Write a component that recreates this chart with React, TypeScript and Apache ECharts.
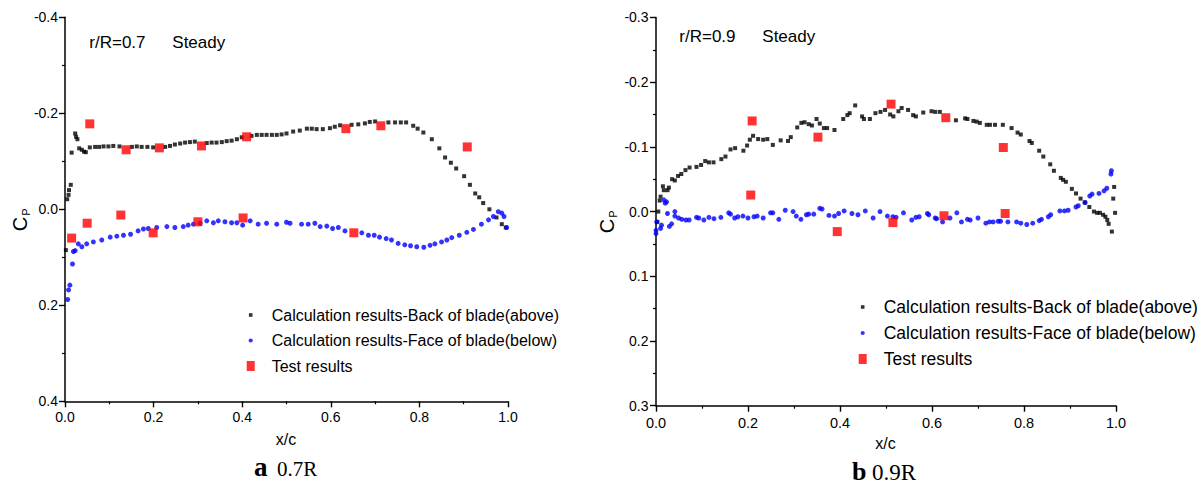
import React, { useEffect, useRef } from "react";
import * as echarts from "echarts";

const BACK = "Calculation results-Back of blade(above)";
const FACE = "Calculation results-Face of blade(below)";
const TEST = "Test results";

// x/c, Cp
const leftBack: number[][] = [
  [0.002, 0.085], [0.005, -0.021], [0.008, -0.03], [0.009, -0.04], [0.013, -0.051], [0.015, -0.118],
  [0.023, -0.158], [0.025, -0.151], [0.028, -0.146], [0.032, -0.127], [0.038, -0.124], [0.043, -0.12],
  [0.047, -0.119], [0.056, -0.129], [0.068, -0.13], [0.077, -0.13], [0.087, -0.131], [0.098, -0.131],
  [0.109, -0.132], [0.123, -0.131], [0.151, -0.13], [0.162, -0.131], [0.173, -0.13], [0.186, -0.13],
  [0.199, -0.129], [0.226, -0.13], [0.237, -0.132], [0.248, -0.135], [0.26, -0.137], [0.271, -0.139],
  [0.282, -0.14], [0.293, -0.141], [0.32, -0.138], [0.331, -0.139], [0.342, -0.139], [0.354, -0.14],
  [0.365, -0.142], [0.376, -0.143], [0.388, -0.146], [0.399, -0.15], [0.421, -0.153], [0.433, -0.155],
  [0.444, -0.155], [0.455, -0.155], [0.467, -0.155], [0.478, -0.155], [0.489, -0.156], [0.5, -0.158],
  [0.515, -0.162], [0.53, -0.164], [0.546, -0.168], [0.557, -0.168], [0.568, -0.167], [0.582, -0.167],
  [0.598, -0.169], [0.609, -0.172], [0.621, -0.175], [0.647, -0.176], [0.662, -0.177], [0.677, -0.179],
  [0.688, -0.182], [0.7, -0.183], [0.73, -0.181], [0.745, -0.181], [0.758, -0.181], [0.77, -0.181],
  [0.786, -0.174], [0.796, -0.168], [0.809, -0.16], [0.828, -0.146], [0.845, -0.127], [0.858, -0.108],
  [0.871, -0.097], [0.883, -0.085], [0.901, -0.069], [0.914, -0.051], [0.926, -0.033], [0.935, -0.025],
  [0.944, -0.013], [0.958, 0.0], [0.974, 0.017], [0.986, 0.031], [0.995, 0.038],
];

const leftFace: number[][] = [
  [0.006, 0.188], [0.008, 0.168], [0.011, 0.158], [0.017, 0.114], [0.019, 0.088], [0.023, 0.086],
  [0.03, 0.072], [0.038, 0.078], [0.049, 0.072], [0.064, 0.068], [0.083, 0.064], [0.102, 0.058],
  [0.117, 0.056], [0.132, 0.054], [0.148, 0.052], [0.165, 0.045], [0.177, 0.041], [0.188, 0.04],
  [0.207, 0.038], [0.23, 0.036], [0.248, 0.038], [0.267, 0.036], [0.278, 0.033], [0.29, 0.031],
  [0.305, 0.029], [0.32, 0.024], [0.335, 0.028], [0.346, 0.024], [0.361, 0.026], [0.376, 0.028],
  [0.388, 0.028], [0.401, 0.033], [0.418, 0.024], [0.436, 0.031], [0.455, 0.029], [0.478, 0.031],
  [0.5, 0.027], [0.508, 0.029], [0.534, 0.031], [0.549, 0.031], [0.564, 0.029], [0.576, 0.036],
  [0.591, 0.035], [0.604, 0.04], [0.617, 0.038], [0.632, 0.045], [0.67, 0.049], [0.685, 0.054],
  [0.698, 0.054], [0.71, 0.058], [0.725, 0.061], [0.737, 0.064], [0.752, 0.071], [0.767, 0.074],
  [0.78, 0.076], [0.794, 0.078], [0.81, 0.079], [0.824, 0.075], [0.835, 0.072], [0.85, 0.068],
  [0.862, 0.064], [0.873, 0.059], [0.89, 0.054], [0.907, 0.048], [0.922, 0.042], [0.94, 0.031],
  [0.956, 0.022], [0.967, 0.015], [0.978, 0.005], [0.986, 0.008], [0.991, 0.015], [0.997, 0.038],
];

const leftTest: number[][] = [
  [0.015, 0.06], [0.05, 0.029], [0.056, -0.178], [0.126, 0.012], [0.138, -0.124], [0.199, 0.049],
  [0.213, -0.128], [0.3, 0.026], [0.308, -0.132], [0.402, 0.018], [0.41, -0.151], [0.634, -0.168],
  [0.652, 0.049], [0.713, -0.174], [0.908, -0.13],
];

const rightBack: number[][] = [
  [0.003, 0.016], [0.005, 0.0], [0.008, -0.017], [0.01, -0.023], [0.015, -0.039], [0.017, -0.033],
  [0.025, -0.033], [0.028, -0.037], [0.035, -0.05], [0.041, -0.048], [0.048, -0.055], [0.055, -0.058],
  [0.064, -0.064], [0.073, -0.068], [0.088, -0.069], [0.098, -0.072], [0.107, -0.078], [0.115, -0.076],
  [0.125, -0.076], [0.142, -0.081], [0.151, -0.085], [0.162, -0.096], [0.172, -0.098], [0.19, -0.094],
  [0.198, -0.102], [0.204, -0.111], [0.211, -0.117], [0.222, -0.112], [0.233, -0.111], [0.242, -0.112],
  [0.254, -0.103], [0.271, -0.11], [0.287, -0.109], [0.293, -0.115], [0.307, -0.13], [0.316, -0.137],
  [0.323, -0.138], [0.332, -0.135], [0.339, -0.133], [0.349, -0.143], [0.356, -0.136], [0.365, -0.129],
  [0.372, -0.129], [0.388, -0.126], [0.407, -0.143], [0.416, -0.149], [0.421, -0.152], [0.433, -0.164],
  [0.448, -0.147], [0.452, -0.143], [0.465, -0.143], [0.477, -0.152], [0.488, -0.154], [0.498, -0.157],
  [0.509, -0.15], [0.516, -0.147], [0.527, -0.155], [0.534, -0.16], [0.548, -0.157], [0.559, -0.149],
  [0.565, -0.147], [0.581, -0.153], [0.599, -0.155], [0.607, -0.154], [0.617, -0.154], [0.652, -0.141],
  [0.672, -0.144], [0.677, -0.143], [0.69, -0.14], [0.697, -0.139], [0.704, -0.137], [0.719, -0.134],
  [0.726, -0.134], [0.737, -0.134], [0.754, -0.134], [0.773, -0.129], [0.786, -0.122], [0.793, -0.119],
  [0.812, -0.109], [0.817, -0.106], [0.833, -0.094], [0.842, -0.085], [0.857, -0.073], [0.865, -0.063],
  [0.88, -0.052], [0.885, -0.049], [0.891, -0.046], [0.904, -0.035], [0.913, -0.028], [0.923, -0.02],
  [0.932, -0.014], [0.942, -0.007], [0.952, 0.0], [0.959, 0.002], [0.965, 0.002], [0.972, 0.005],
  [0.977, 0.008], [0.981, 0.013], [0.984, 0.019], [0.991, 0.031], [0.994, -0.02], [0.996, -0.038],
  [0.998, 0.002],
];

const rightFace: number[][] = [
  [0.0, 0.034], [0.0, 0.029], [0.0015, 0.016], [0.01, 0.026], [0.012, 0.021], [0.017, -0.018],
  [0.02, -0.013], [0.023, -0.015], [0.025, 0.003], [0.029, 0.023], [0.034, 0.019], [0.041, 0.0],
  [0.041, 0.007], [0.049, 0.01], [0.056, 0.012], [0.065, 0.013], [0.072, 0.013], [0.088, 0.009],
  [0.093, 0.01], [0.104, 0.013], [0.115, 0.009], [0.126, 0.011], [0.141, 0.009], [0.158, 0.002],
  [0.162, 0.004], [0.171, 0.01], [0.178, 0.008], [0.189, 0.007], [0.2, 0.01], [0.213, 0.008],
  [0.22, 0.007], [0.233, 0.01], [0.249, 0.002], [0.254, 0.002], [0.267, 0.012], [0.281, -0.002],
  [0.298, 0.0], [0.305, 0.007], [0.315, 0.012], [0.327, 0.005], [0.332, 0.004], [0.343, 0.004],
  [0.356, -0.005], [0.361, -0.004], [0.376, 0.006], [0.388, 0.007], [0.397, 0.003], [0.409, -0.001],
  [0.426, 0.003], [0.439, 0.005], [0.455, -0.001], [0.472, 0.01], [0.487, 0.0], [0.503, 0.007],
  [0.515, 0.008], [0.522, 0.009], [0.538, 0.002], [0.556, 0.013], [0.565, 0.009], [0.572, 0.008],
  [0.59, 0.003], [0.593, 0.005], [0.607, 0.01], [0.61, 0.011], [0.623, 0.016], [0.639, 0.01],
  [0.654, 0.002], [0.664, 0.016], [0.677, 0.012], [0.683, 0.013], [0.7, 0.01], [0.717, 0.018],
  [0.725, 0.016], [0.733, 0.016], [0.744, 0.015], [0.749, 0.015], [0.765, 0.016], [0.784, 0.016],
  [0.793, 0.018], [0.806, 0.02], [0.819, 0.018], [0.833, 0.014], [0.838, 0.012], [0.853, 0.008],
  [0.858, 0.005], [0.878, -0.001], [0.888, -0.001], [0.896, -0.002], [0.913, -0.007], [0.918, -0.009],
  [0.933, -0.014], [0.943, -0.024], [0.948, -0.027], [0.963, -0.028], [0.974, -0.032], [0.98, -0.036],
  [0.989, -0.058], [0.99, -0.063],
];

const rightTest: number[][] = [
  [0.206, -0.0255], [0.209, -0.14], [0.352, -0.115], [0.394, 0.031], [0.511, -0.166], [0.515, 0.017],
  [0.626, 0.0065], [0.63, -0.145], [0.755, -0.099], [0.759, 0.003],
];

const SANS = "Liberation Sans, Arial, sans-serif";
const SERIF = "Liberation Serif, Times New Roman, serif";

const fmt = (v: number) => (Math.abs(v) < 1e-9 ? "0.0" : v.toFixed(1));

function axisCommon(labelSize: number, margin: number) {
  return {
    type: "value" as const,
    axisLine: { show: true, onZero: false, lineStyle: { color: "#000", width: 1.5 } },
    axisTick: { show: true, inside: false, length: 6, lineStyle: { color: "#000", width: 1.4 } },
    minorTick: { show: true, splitNumber: 2, length: 3, lineStyle: { color: "#000", width: 1.2 } },
    splitLine: { show: false },
    minorSplitLine: { show: false },
    axisLabel: { color: "#000", fontSize: labelSize, fontFamily: SANS, margin, formatter: fmt },
  };
}

const ICON_SQ = "path://M0,0M8,10M2.2,3.2L5.8,3.2L5.8,6.8L2.2,6.8Z";
const ICON_DOT = "path://M0,0M8,10M1.9,5A2.1,2.1,0,1,1,6.1,5A2.1,2.1,0,1,1,1.9,5Z";

function legendFor(left: number, top: number, size: number, gap: number) {
  return {
    orient: "vertical" as const,
    left,
    top,
    itemWidth: 8,
    itemHeight: 10,
    itemGap: gap,
    selectedMode: false,
    textStyle: { fontSize: size, lineHeight: size, fontFamily: SANS, color: "#000", padding: [0, 0, 0, 12] },
    data: [
      { name: BACK, icon: ICON_SQ },
      { name: FACE, icon: ICON_DOT },
      { name: TEST, icon: "rect" },
    ],
  };
}

function seriesFor(idx: number, back: number[][], face: number[][], test: number[][]) {
  return [
    {
      type: "scatter", name: BACK, xAxisIndex: idx, yAxisIndex: idx, data: back,
      symbol: "rect", symbolSize: 4, itemStyle: { color: "#000" }, z: 2,
    },
    {
      type: "scatter", name: FACE, xAxisIndex: idx, yAxisIndex: idx, data: face,
      symbol: "circle", symbolSize: 5, itemStyle: { color: "#0000ff" }, z: 2,
    },
    {
      type: "scatter", name: TEST, xAxisIndex: idx, yAxisIndex: idx, data: test,
      symbol: "rect", symbolSize: 9, itemStyle: { color: "#ff0000" }, z: 3,
    },
  ];
}

function txt(x: number, y: number, text: string, size: number, extra: any = {}) {
  return {
    type: "text",
    x,
    y,
    ...extra.el,
    style: {
      text,
      fontSize: size,
      fontFamily: SANS,
      fill: "#000",
      align: "left",
      verticalAlign: "middle",
      ...extra.style,
    },
  };
}

export default function App() {
  const ref = useRef<HTMLDivElement>(null);
  useEffect(() => {
    if (!ref.current) return;
    const chart = echarts.init(ref.current, undefined, { renderer: "svg" });
    const rot = { rotation: Math.PI / 2 };
    const serifBold = { style: { fontFamily: SERIF, fontWeight: "bold" } };
    const serif = { style: { fontFamily: SERIF } };
    chart.setOption({
      animation: false,
      backgroundColor: "#fff",
      grid: [
        { left: 65, top: 17.3, width: 443, height: 384, outerBoundsMode: "none" },
        { left: 656, top: 17.4, width: 460, height: 388.3, outerBoundsMode: "none" },
      ],
      xAxis: [
        { ...axisCommon(14, 9), gridIndex: 0, min: 0, max: 1, interval: 0.2 },
        { ...axisCommon(14.5, 10), gridIndex: 1, min: 0, max: 1, interval: 0.2 },
      ],
      yAxis: [
        { ...axisCommon(14, 7), gridIndex: 0, inverse: true, min: -0.4, max: 0.4, interval: 0.2 },
        { ...axisCommon(14, 7.5), gridIndex: 1, inverse: true, min: -0.3, max: 0.3, interval: 0.1 },
      ],
      legend: [legendFor(241.7, 302, 16, 9.5), legendFor(853.7, 293, 17.5, 8)],
      series: [
        ...seriesFor(0, leftBack, leftFace, leftTest),
        ...seriesFor(1, rightBack, rightFace, rightTest),
      ],
      graphic: [
        txt(89.3, 42, "r/R=0.7", 17),
        txt(172.3, 42, "Steady", 17),
        txt(679.3, 36.7, "r/R=0.9", 17),
        txt(762.3, 36.7, "Steady", 17),
        txt(20, 224, "C", 20, { el: rot, style: { align: "center" } }),
        txt(26, 212, "P", 11, { el: rot, style: { align: "center" } }),
        txt(607, 226, "C", 20, { el: rot, style: { align: "center" } }),
        txt(613, 214, "P", 11, { el: rot, style: { align: "center" } }),
        txt(286, 439, "x/c", 16, { style: { align: "center" } }),
        txt(885.5, 443, "x/c", 16, { style: { align: "center" } }),
        txt(254, 467, "a", 27, serifBold),
        txt(277, 468.6, "0.7R", 21, serif),
        txt(852, 471, "b", 26, serifBold),
        txt(872, 472, "0.9R", 23, serif),
      ],
    });
    return () => chart.dispose();
  }, []);
  return (
    <div
      ref={ref}
      style={{ position: "fixed", left: 0, top: 0, width: 1200, height: 484, background: "#fff" }}
    />
  );
}
